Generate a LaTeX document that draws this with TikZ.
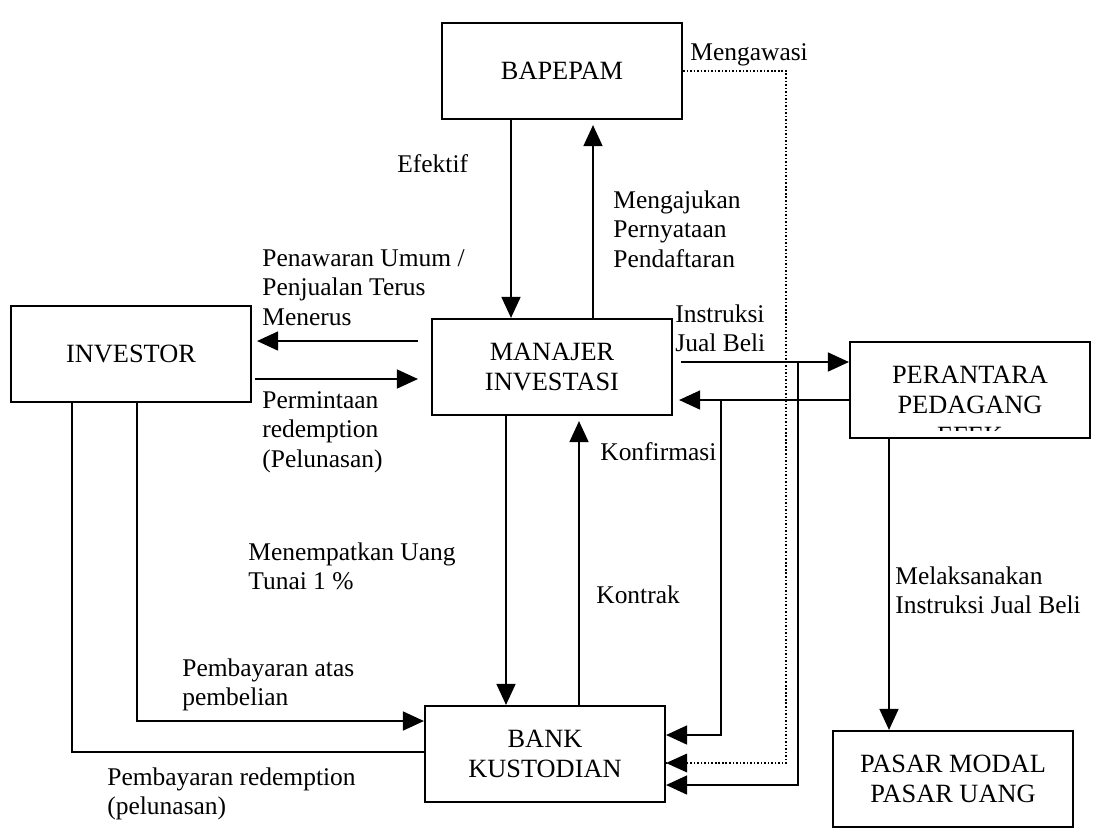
\documentclass[tikz,border=0pt]{standalone}
\usepackage{fontspec}
\setmainfont{Liberation Serif}
\usetikzlibrary{arrows.meta}
\newcommand{\mylines}[1]{\begin{tabular}[t]{@{}l@{}}#1\end{tabular}}
\newcommand{\mycenter}[1]{\begin{tabular}[t]{@{}c@{}}#1\end{tabular}}
\begin{document}
\begin{tikzpicture}[x=0.02cm,y=-0.02cm,
  box/.style={draw,line width=1.25pt,minimum width=4.8cm,minimum height=1.92cm,
    align=center,inner sep=0pt,font=\fontsize{15}{17.4}\selectfont},
  boxtext/.style={anchor=base,inner sep=0pt,font=\fontsize{15}{17.4}\selectfont},
  lab/.style={anchor=base west,inner sep=0pt,font=\fontsize{14.5}{16.8}\selectfont},
  conn/.style={line width=0.9pt},
  arr/.style={conn,-{Triangle[length=0.42cm,width=0.38cm]}},
  dots/.style={line width=1pt,dash pattern=on 0.9pt off 1.1pt}]
\useasboundingbox (0,0) rectangle (1098,833);

% boxes
\node[box] (bapepam) at (562,71) {BAPEPAM};
\node[box] (investor) at (131,354) {INVESTOR};
\node[box] (manajer) at (552,367) {MANAJER\\INVESTASI};
\node[box] (perantara) at (970,390) {};
\begin{scope}
  \clip (852,344) rectangle (1088,430);
  \node[boxtext] (perantaratext) at (970,383) {\mycenter{PERANTARA\\PEDAGANG\\EFEK}};
\end{scope}
\node[box] (bank) at (545,754) {BANK\\KUSTODIAN};
\node[box] (pasar) at (953,779) {PASAR MODAL\\PASAR UANG};

% helper coordinates
\coordinate (xE) at (511,0);
\coordinate (xM) at (593,0);
\coordinate (xT) at (506,0);
\coordinate (xC) at (579,0);
\coordinate (xK) at (721,0);
\coordinate (xD) at (786,0);
\coordinate (xS) at (798,0);
\coordinate (xPs) at (889,0);
\coordinate (xPay) at (137,0);
\coordinate (xRd) at (72,0);
\coordinate (yP) at (0,341);
\coordinate (yQ) at (0,379);
\coordinate (yI) at (0,362);
\coordinate (yB) at (0,400);
\coordinate (yR1) at (0,735);
\coordinate (yR2) at (0,763);
\coordinate (yR3) at (0,785);
\coordinate (yL1) at (0,721);
\coordinate (yL2) at (0,752);

% connectors
\draw[arr] (bapepam.south -| xE) -- (manajer.north -| xE);
\draw[arr,shorten >=0.1cm] (manajer.north -| xM) -- (bapepam.south -| xM);
\draw[arr,shorten <=0.26cm,shorten >=0.1cm] (manajer.west |- yP) -- (investor.east |- yP);
\draw[arr,shorten <=0.06cm,shorten >=0.26cm] (investor.east |- yQ) -- (manajer.west |- yQ);
\draw[arr,shorten <=0.16cm] (manajer.east |- yI) -- (perantara.west |- yI);
\draw[arr,shorten >=0.12cm] (perantara.west |- yB) -- (manajer.east |- yB);
\draw[arr] (xK |- yB) -- (xK |- yR1) -- (bank.east |- yR1);
\draw[arr] (xS |- yI) -- (xS |- yR3) -- (bank.east |- yR3);
\draw[dots] (bapepam.east) -- (xD |- bapepam.east) -- (xD |- yR2) -- (bank.east |- yR2);
\fill (bank.east |- yR2) -- ++(0.42cm,-0.19cm) -- ++(0,0.38cm) -- cycle;
\draw[arr,shorten >=0.1cm] (bank.north -| xC) -- (manajer.south -| xC);
\draw[arr] (manajer.south -| xT) -- (bank.north -| xT);
\draw[arr] (investor.south -| xPay) -- (xPay |- yL1) -- (bank.west |- yL1);
\draw[conn] (bank.west |- yL2) -- (xRd |- yL2) -- (investor.south -| xRd);
\draw[arr] (perantara.south -| xPs) -- (pasar.north -| xPs);

% labels
\node[lab] (lMengawasi) at (690,60) {Mengawasi};
\node[lab] (lEfektif) at (397,172) {Efektif};
\node[lab] (lMengajukan) at (613,208) {\mylines{Mengajukan\\Pernyataan\\Pendaftaran}};
\node[lab] (lPenawaran) at (262,266) {\mylines{Penawaran Umum /\\Penjualan Terus\\Menerus}};
\node[lab] (lPermintaan) at (262,408) {\mylines{Permintaan\\redemption\\(Pelunasan)}};
\node[lab] (lInstruksi) at (675,322) {\mylines{Instruksi\\Jual Beli}};
\node[lab] (lKonfirmasi) at (600,460) {Konfirmasi};
\node[lab] (lMenempatkan) at (248,560) {\mylines{Menempatkan Uang\\Tunai 1 \%}};
\node[lab] (lKontrak) at (596,603) {Kontrak};
\node[lab] (lMelaksanakan) at (895,584) {\mylines{Melaksanakan\\Instruksi Jual Beli}};
\node[lab] (lPembayaran) at (182,676) {\mylines{Pembayaran atas\\pembelian}};
\node[lab] (lRedemption) at (107,785) {\mylines{Pembayaran redemption\\(pelunasan)}};
\end{tikzpicture}
\end{document}
